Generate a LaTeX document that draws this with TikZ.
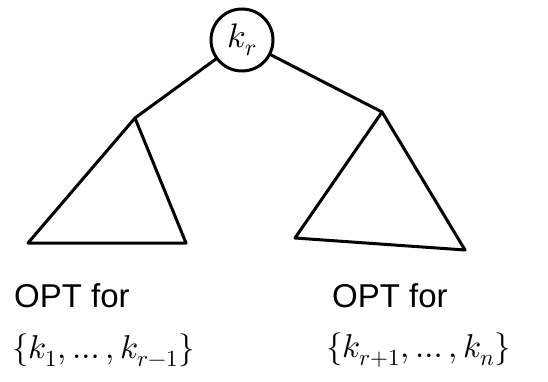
\documentclass[tikz,border=0pt]{standalone}
\usepackage{amsmath}
\usepackage{fontspec}
\usepackage{unicode-math}
\setmainfont{Liberation Sans}
\setmathfont{Latin Modern Math}
\usetikzlibrary{positioning,calc}
\tikzset{
  key node/.style={circle,draw=black,line width=3pt,minimum size=62pt,inner sep=0pt,font=\fontsize{34}{38}\selectfont},
  subtree/.style={draw=black,line width=3pt,line join=round},
  tree edge/.style={draw=black,line width=3pt,line cap=round},
  opt label/.style={anchor=west,font=\fontsize{33}{40}\selectfont,inner sep=0pt}
}
\begin{document}
\begin{tikzpicture}[x=1pt,y=-1pt]
  \useasboundingbox (0,0) rectangle (548,382);
  \node[key node] (root) at (242,40) {$k_r$};
  % left subtree
  \coordinate (lapex) at (135,118);
  \coordinate (lleft) at (28,243);
  \coordinate (lright) at (186,243);
  \draw[subtree] (lapex) -- (lleft) -- (lright) -- cycle;
  % right subtree
  \coordinate (rapex) at (382,112);
  \coordinate (rleft) at (295,238);
  \coordinate (rright) at (465,250);
  \draw[subtree] (rapex) -- (rleft) -- (rright) -- cycle;
  \draw[tree edge] (root) -- (lapex);
  \draw[tree edge] (root) -- (rapex);
  % labels
  \node[opt label] (lopt) at (14,296) {OPT for};
  \node[opt label] (lkeys) at (12,350) {$\{k_1,\ldots,k_{r-1}\}$};
  \node[opt label] (ropt) at (332,296) {OPT for};
  \node[opt label] (rkeys) at (326,350) {$\{k_{r+1},\ldots,k_n\}$};
\end{tikzpicture}
\end{document}
